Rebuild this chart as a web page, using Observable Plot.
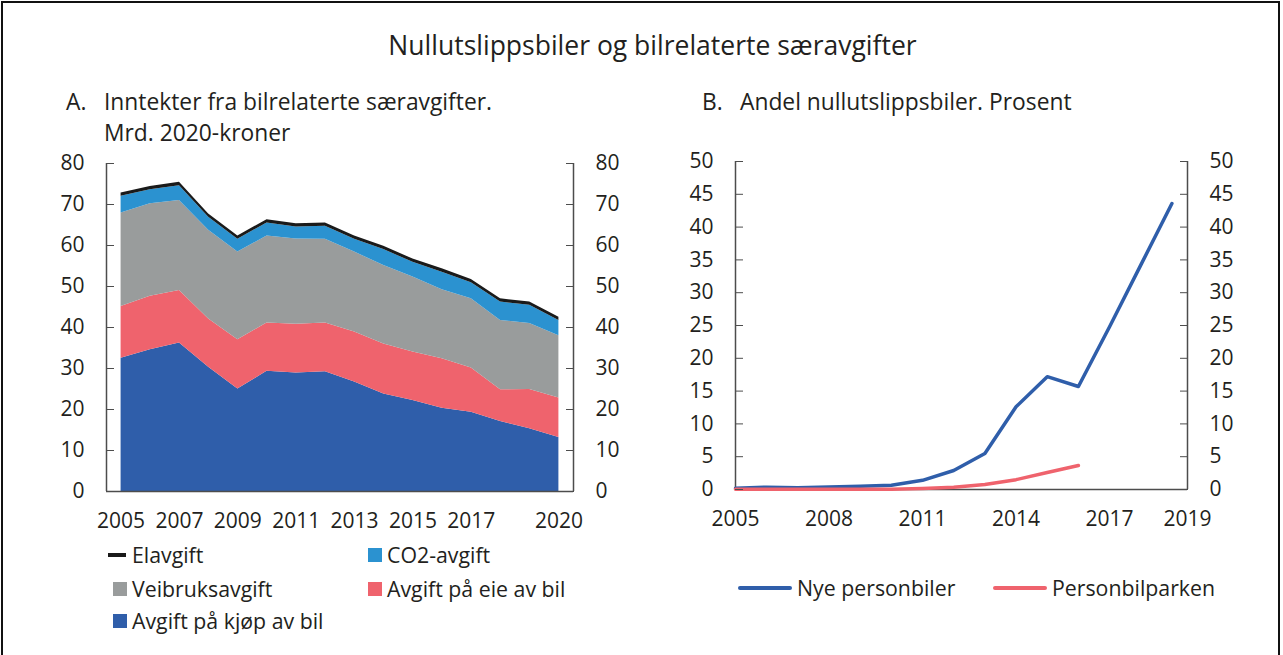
<!DOCTYPE html>
<html><head><meta charset="utf-8">
<script src="https://cdn.jsdelivr.net/npm/d3@7"></script>
<script src="https://cdn.jsdelivr.net/npm/@observablehq/plot@0.6"></script>
<style>
body{margin:0;background:#fff;font-family:"Open Sans",sans-serif;color:#231f20}
#root{position:relative;width:1283px;height:655px;overflow:hidden;background:#fff}
.abs{position:absolute;white-space:nowrap}
#border{position:absolute;left:1px;top:1px;width:1279px;height:700px;border:2px solid #111;box-sizing:border-box}
.title{font-size:26.5px;line-height:34px}
.sub{font-size:22.8px;line-height:22.8px}
.leg{font-size:21.3px;line-height:28px;display:flex;align-items:center}
.sq{display:inline-block;width:14px;height:14px;margin-right:5px}
.ln{display:inline-block;width:18px;height:3.5px;margin-right:6px}
.lnb{display:inline-block;width:54px;height:4px;border-radius:2px;margin-right:5px}
.plot{position:absolute}
</style></head>
<body><div id="root">
<div id="border"></div>
<div class="abs title" style="left:11px;width:1283px;text-align:center;top:28px">Nullutslippsbiler og bilrelaterte særavgifter</div>
<div class="abs sub" style="left:66px;top:91px">A.</div>
<div class="abs sub" style="left:104px;top:91px">Inntekter fra bilrelaterte særavgifter.</div>
<div class="abs sub" style="left:104px;top:122.2px">Mrd. 2020-kroner</div>
<div class="abs sub" style="left:702px;top:91px">B.</div>
<div class="abs sub" style="left:740px;top:91px">Andel nullutslippsbiler. Prosent</div>
<div id="plotA" class="plot" style="left:40px;top:140px"></div>
<div id="plotB" class="plot" style="left:660px;top:140px"></div>
<div id="legA"></div>
<div id="legB"></div>
</div>
<script>
// ---- Data: panel A (Mrd. 2020-kroner) ----
const years = [2005,2006,2007,2008,2009,2010,2011,2012,2013,2014,2015,2016,2017,2018,2019,2020];
const kjop  = [32.5,34.6,36.2,30.3,25.0,29.3,28.9,29.2,26.7,23.8,22.2,20.3,19.3,17.1,15.3,13.2];
const eie   = [12.6,13.0,12.8,11.8,12.0,11.8,11.9,11.9,12.2,12.2,11.8,12.1,10.8,7.7,9.6,9.6];
const vei   = [22.8,22.6,22.0,21.6,21.4,21.2,20.8,20.4,19.5,19.1,18.3,16.8,16.9,16.9,16.1,15.2];
const co2   = [4.1,3.4,3.6,3.2,3.1,3.2,2.9,3.2,3.1,3.9,3.6,4.3,3.9,4.5,4.4,3.7];
const el    = [0.8,0.8,0.8,0.8,0.8,0.8,0.8,0.8,0.8,0.8,0.8,0.8,0.8,0.8,0.8,0.8];
const namesA = ["Avgift på kjøp av bil","Avgift på eie av bil","Veibruksavgift","CO2-avgift","Elavgift"];
const colorsA = ["#2f5eaa","#ef636d","#999c9c","#2b92d0","#1a1a1a"];
const xTicksA = [2005,2007,2009,2011,2013,2015,2017,2020];
const yTicksA = [0,10,20,30,40,50,60,70,80];
const xDomainA = [2004.5,2020.5];

// ---- Data: panel B (Prosent) ----
const yearsB = [2005,2006,2007,2008,2009,2010,2011,2012,2013,2014,2015,2016,2017,2018,2019];
const nye    = [0.2,0.35,0.25,0.4,0.5,0.65,1.4,2.9,5.5,12.6,17.2,15.7,24.8,34.2,43.6];
const yearsPark = [2005,2006,2007,2008,2009,2010,2011,2012,2013,2014,2015,2016];
const park   = [0.05,0.05,0.05,0.05,0.05,0.05,0.15,0.35,0.75,1.5,2.6,3.65];
const namesB = ["Nye personbiler","Personbilparken"];
const colorsB = ["#2f5eaa","#ef636d"];
const xTickPosB = [2005,2008,2011,2014,2017,2019.5];
const xTickLabB = ["2005","2008","2011","2014","2017","2019"];
const yTicksB = [0,5,10,15,20,25,30,35,40,45,50];
const xDomainB = [2005,2019.5];

const seriesA = [kjop,eie,vei,co2,el];
const rowsA = years.flatMap((yr,i)=>namesA.map((n,k)=>({year:yr,series:n,value:seriesA[k][i]})));
const rowsNye = yearsB.map((yr,i)=>({year:yr,value:nye[i],series:namesB[0]}));
const rowsPark = yearsPark.map((yr,i)=>({year:yr,value:park[i],series:namesB[1]}));

const axisCol = "#4d4d4d";
const style = {fontFamily:"Open Sans",fontSize:"21px",color:"#231f20",background:"transparent",overflow:"visible"};

const plotA = Plot.plot({
  width:600,height:400,marginLeft:66,marginRight:67,marginTop:23,marginBottom:49,
  style,
  x:{domain:xDomainA},
  y:{domain:[0,80]},
  color:{domain:namesA,range:colorsA},
  marks:[
    Plot.areaY(rowsA,{x:"year",y:"value",fill:"series",order:namesA}),
    Plot.ruleY([0],{stroke:axisCol,strokeWidth:1.5}),
    Plot.ruleX(xDomainA,{stroke:axisCol,strokeWidth:1.5}),
    Plot.axisY(yTicksA,{anchor:"left",tickSize:0,tickPadding:22,tickFormat:d=>String(d),fill:"#231f20",label:null}),
    Plot.axisY(yTicksA,{anchor:"left",tickSize:8,dx:8,tickFormat:()=>"",stroke:axisCol,label:null}),
    Plot.axisY(yTicksA,{anchor:"right",tickSize:0,tickPadding:22,tickFormat:d=>String(d),fill:"#231f20",label:null}),
    Plot.axisY(yTicksA,{anchor:"right",tickSize:8,dx:-8,tickFormat:()=>"",stroke:axisCol,label:null}),
    Plot.axisX(xTicksA,{tickSize:0,tickPadding:22,tickFormat:d=>String(d),fill:"#231f20",label:null})
  ]
});
document.getElementById("plotA").appendChild(plotA);

const labB = new Map(xTickPosB.map((p,i)=>[p,xTickLabB[i]]));
const plotB = Plot.plot({
  width:600,height:400,marginLeft:75,marginRight:73,marginTop:21,marginBottom:51,
  style,
  x:{domain:xDomainB},
  y:{domain:[0,50]},
  color:{domain:namesB,range:colorsB},
  marks:[
    Plot.ruleY([0],{stroke:axisCol,strokeWidth:1.5}),
    Plot.ruleX(xDomainB,{stroke:axisCol,strokeWidth:1.5}),
    Plot.lineY(rowsNye,{x:"year",y:"value",stroke:"series",strokeWidth:3.5}),
    Plot.lineY(rowsPark,{x:"year",y:"value",stroke:"series",strokeWidth:3.5}),
    Plot.axisY(yTicksB,{anchor:"left",tickSize:0,tickPadding:22,tickFormat:d=>String(d),fill:"#231f20",label:null}),
    Plot.axisY(yTicksB,{anchor:"left",tickSize:8,dx:8,tickFormat:()=>"",stroke:axisCol,label:null}),
    Plot.axisY(yTicksB,{anchor:"right",tickSize:0,tickPadding:22,tickFormat:d=>String(d),fill:"#231f20",label:null}),
    Plot.axisY(yTicksB,{anchor:"right",tickSize:8,dx:-8,tickFormat:()=>"",stroke:axisCol,label:null}),
    Plot.axisX(xTickPosB,{tickSize:0,tickPadding:22,tickFormat:d=>labB.get(d),fill:"#231f20",label:null})
  ]
});
document.getElementById("plotB").appendChild(plotB);

// ---- Legends ----
const legA = document.getElementById("legA");
const legItemsA = [
  {name:"Elavgift",kind:"ln",x:108,y:541},
  {name:"CO2-avgift",kind:"sq",x:368,y:541},
  {name:"Veibruksavgift",kind:"sq",x:113,y:575},
  {name:"Avgift på eie av bil",kind:"sq",x:368,y:575},
  {name:"Avgift på kjøp av bil",kind:"sq",x:113,y:607}
];
legItemsA.forEach(it=>{
  const d=document.createElement("div");
  d.className="abs leg";d.style.left=it.x+"px";d.style.top=it.y+"px";
  const s=document.createElement("span");s.className=it.kind;
  s.style.background=colorsA[namesA.indexOf(it.name)];
  d.appendChild(s);d.appendChild(document.createTextNode(it.name));legA.appendChild(d);
});
const legB = document.getElementById("legB");
[{name:namesB[0],x:738},{name:namesB[1],x:993}].forEach(it=>{
  const d=document.createElement("div");
  d.className="abs leg";d.style.left=it.x+"px";d.style.top="574px";
  const s=document.createElement("span");s.className="lnb";
  s.style.background=colorsB[namesB.indexOf(it.name)];
  d.appendChild(s);d.appendChild(document.createTextNode(it.name));legB.appendChild(d);
});
</script>
</body></html>
